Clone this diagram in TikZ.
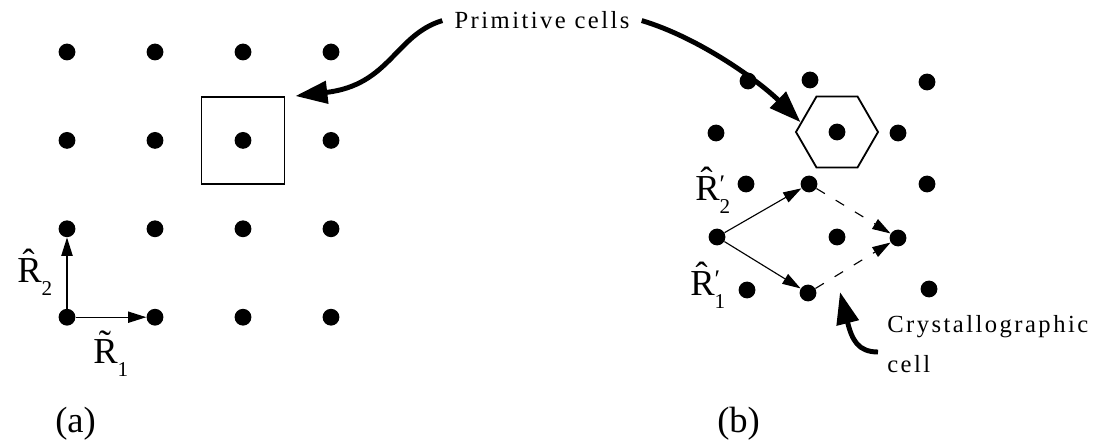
\documentclass[tikz,border=0pt]{standalone}
\usepackage{fontspec}
\setmainfont{Liberation Serif}
\newfontfamily\spacedfont[LetterSpace=10]{Liberation Serif}
\usetikzlibrary{arrows.meta, shapes.geometric, positioning}
\newcommand{\veclbl}[3]{#1\rlap{\raisebox{5pt}{\fontsize{18}{18}\selectfont #3}}\raisebox{-9.5pt}{\fontsize{15}{15}\selectfont #2}}
\tikzset{
  latpt/.style={circle, fill=black, inner sep=0pt, minimum size=0.42cm},
  cellbox/.style={draw, line width=1.1pt, minimum width=2.08cm,
    minimum height=2.18cm, inner sep=0pt},
  hexbox/.style={draw, line width=1.3pt, regular polygon,
    regular polygon sides=6, minimum size=2.05cm, inner sep=0pt},
  vecarrow/.style={-{Triangle[length=13pt, width=8pt]}, line width=0.8pt},
  dasharrow/.style={vecarrow, dash pattern=on 7pt off 9pt},
  fatarrow/.style={-{Triangle[length=0.8cm, width=0.55cm]}, line width=3.5pt},
  lbl/.style={font=\fontsize{26}{30}\selectfont, inner sep=0pt, anchor=base west},
  note/.style={font=\spacedfont\fontsize{17.5}{28.45}\selectfont, inner sep=0pt}
}
\begin{document}
\begin{tikzpicture}[x=0.025cm, y=-0.025cm]
  \useasboundingbox (0,0) rectangle (1104,446);

  % Square lattice
  \foreach \i in {1,...,4}
    \foreach \j in {1,...,4}
      \node[latpt] (a\i\j) at ({67+88*(\i-1)}, {52+88.4*(\j-1)}) {};
  \node[cellbox] (sqcell) at (a32) {};

  % Basis vectors (a)
  \draw[vecarrow] (a14) -- (a24);
  \draw[vecarrow] (a14) -- (a13);
  \node[lbl] (r2a) at (17,282) {\veclbl{\^{R}}{2}{}};
  \node[lbl] (r1a) at (93,363) {\veclbl{\~{R}}{1}{}};
  \node[lbl] (tagA) at (55,432) {(a)};

  % Oblique lattice
  \foreach \n/\x/\y in {11/748/81, 12/810/80, 13/927/82,
                        21/716/133, 22/837/132, 23/898/133,
                        31/746/184, 32/809/184, 33/927/184,
                        41/717/237, 42/837/237, 43/898/238,
                        51/747/290, 52/808/293, 53/929/289}
    \node[latpt] (b\n) at (\x,\y) {};
  \node[hexbox] (hexcell) at (b22) {};

  % Basis vectors (b) and crystallographic cell
  \draw[vecarrow] (b41) -- (b32);
  \draw[vecarrow] (b41) -- (b52);
  \draw[dasharrow] (b32) -- (b43);
  \draw[dasharrow] (b52) -- (b43);
  \node[lbl] (r2b) at (695,200) {\veclbl{\^{R}}{2}{′}};
  \node[lbl] (r1b) at (690,295) {\veclbl{\^{R}}{1}{′}};
  \node[lbl] (tagB) at (717,432) {(b)};

  % Annotations
  \node[note, inner xsep=0.3cm, anchor=base] (primtxt) at (542,29) {Primitive cells};
  \draw[fatarrow] (primtxt.west) .. controls (395,35) and (390,85) .. ([xshift=0.25cm]sqcell.north east);
  \draw[fatarrow] (primtxt.east) .. controls (700,38) and (760,82) .. (hexcell.165);
  \node[note, anchor=north west, align=left] (crysttxt) at (887,315) {Crystallographic\\cell};
  \coordinate (ctail) at (878,352);
  \coordinate (ctip) at (840,292);
  \draw[fatarrow] (ctail) .. controls (858,352) and (852,340) .. (ctip);
\end{tikzpicture}
\end{document}
